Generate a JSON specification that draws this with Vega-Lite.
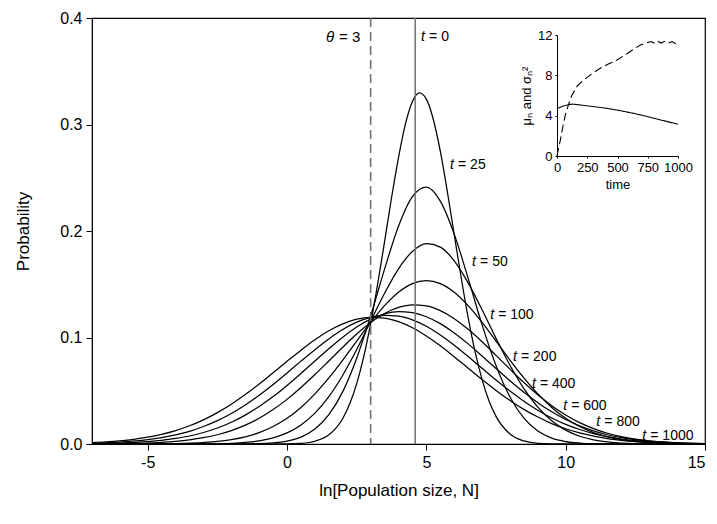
{
  "$schema": "https://vega.github.io/schema/vega-lite/v6.json",
  "width": 613,
  "height": 426,
  "autosize": {"type": "none"},
  "padding": {"left": 92, "top": 18, "right": 12, "bottom": 80},
  "background": "white",
  "config": {
    "font": "Liberation Sans",
    "view": {"stroke": "black", "strokeWidth": 1.2},
    "axis": {
      "grid": false,
      "domainColor": "black",
      "tickColor": "black",
      "labelColor": "black",
      "titleColor": "black",
      "titleFontWeight": "normal",
      "labelFont": "Liberation Sans",
      "titleFont": "Liberation Sans"
    }
  },
  "datasets": {
    "curves": [
      {"t": 25, "x": -7, "p": 0}, {"t": 25, "x": -1, "p": 0}, {"t": 25, "x": 0, "p": 0.00014}, {"t": 25, "x": 0.5, "p": 0.00065},
      {"t": 25, "x": 1, "p": 0.0026}, {"t": 25, "x": 1.5, "p": 0.0086}, {"t": 25, "x": 2, "p": 0.024}, {"t": 25, "x": 2.25, "p": 0.0377},
      {"t": 25, "x": 2.5, "p": 0.0567}, {"t": 25, "x": 2.75, "p": 0.0818}, {"t": 25, "x": 3, "p": 0.1131}, {"t": 25, "x": 3.25, "p": 0.1498},
      {"t": 25, "x": 3.5, "p": 0.19}, {"t": 25, "x": 3.75, "p": 0.2312}, {"t": 25, "x": 4, "p": 0.269}, {"t": 25, "x": 4.25, "p": 0.3006},
      {"t": 25, "x": 4.5, "p": 0.3216}, {"t": 25, "x": 4.75, "p": 0.3297}, {"t": 25, "x": 5, "p": 0.3238}, {"t": 25, "x": 5.25, "p": 0.3047},
      {"t": 25, "x": 5.5, "p": 0.2749}, {"t": 25, "x": 5.75, "p": 0.2375}, {"t": 25, "x": 6, "p": 0.1966}, {"t": 25, "x": 6.25, "p": 0.1561},
      {"t": 25, "x": 6.5, "p": 0.1186}, {"t": 25, "x": 6.75, "p": 0.0864}, {"t": 25, "x": 7, "p": 0.0604}, {"t": 25, "x": 7.25, "p": 0.0403},
      {"t": 25, "x": 7.5, "p": 0.0259}, {"t": 25, "x": 8, "p": 0.0094}, {"t": 25, "x": 8.5, "p": 0.0029}, {"t": 25, "x": 9, "p": 0.0007},
      {"t": 25, "x": 10, "p": 0.0001}, {"t": 25, "x": 15, "p": 0},

      {"t": 50, "x": -7, "p": 0}, {"t": 50, "x": -2, "p": 0.00004}, {"t": 50, "x": -1, "p": 0.0004}, {"t": 50, "x": -0.5, "p": 0.0011},
      {"t": 50, "x": 0, "p": 0.0028}, {"t": 50, "x": 0.5, "p": 0.0065}, {"t": 50, "x": 1, "p": 0.014}, {"t": 50, "x": 1.5, "p": 0.0275},
      {"t": 50, "x": 2, "p": 0.0492}, {"t": 50, "x": 2.5, "p": 0.0806}, {"t": 50, "x": 3, "p": 0.1204}, {"t": 50, "x": 3.5, "p": 0.1642},
      {"t": 50, "x": 4, "p": 0.2045}, {"t": 50, "x": 4.5, "p": 0.2323}, {"t": 50, "x": 5, "p": 0.2411}, {"t": 50, "x": 5.5, "p": 0.2281},
      {"t": 50, "x": 6, "p": 0.1971}, {"t": 50, "x": 6.5, "p": 0.1555}, {"t": 50, "x": 7, "p": 0.1119}, {"t": 50, "x": 7.5, "p": 0.0736},
      {"t": 50, "x": 8, "p": 0.0441}, {"t": 50, "x": 8.5, "p": 0.0242}, {"t": 50, "x": 9, "p": 0.0121}, {"t": 50, "x": 9.5, "p": 0.0055},
      {"t": 50, "x": 10, "p": 0.0023}, {"t": 50, "x": 10.5, "p": 0.0009}, {"t": 50, "x": 11, "p": 0.0003}, {"t": 50, "x": 12, "p": 0.00003},
      {"t": 50, "x": 15, "p": 0},

      {"t": 100, "x": -7, "p": 0}, {"t": 100, "x": -3, "p": 0.0001}, {"t": 100, "x": -2, "p": 0.0007}, {"t": 100, "x": -1.5, "p": 0.0015},
      {"t": 100, "x": -1, "p": 0.003}, {"t": 100, "x": -0.5, "p": 0.0058}, {"t": 100, "x": 0, "p": 0.0104}, {"t": 100, "x": 0.5, "p": 0.0179},
      {"t": 100, "x": 1, "p": 0.029}, {"t": 100, "x": 1.5, "p": 0.0445}, {"t": 100, "x": 2, "p": 0.0646}, {"t": 100, "x": 2.5, "p": 0.0887},
      {"t": 100, "x": 3, "p": 0.1152}, {"t": 100, "x": 3.5, "p": 0.1416}, {"t": 100, "x": 4, "p": 0.1645}, {"t": 100, "x": 4.5, "p": 0.1808},
      {"t": 100, "x": 5, "p": 0.1881}, {"t": 100, "x": 5.5, "p": 0.1849}, {"t": 100, "x": 6, "p": 0.172}, {"t": 100, "x": 6.5, "p": 0.1513},
      {"t": 100, "x": 7, "p": 0.126}, {"t": 100, "x": 7.5, "p": 0.0992}, {"t": 100, "x": 8, "p": 0.0739}, {"t": 100, "x": 8.5, "p": 0.052},
      {"t": 100, "x": 9, "p": 0.0347}, {"t": 100, "x": 9.5, "p": 0.0219}, {"t": 100, "x": 10, "p": 0.013}, {"t": 100, "x": 10.5, "p": 0.0073},
      {"t": 100, "x": 11, "p": 0.0039}, {"t": 100, "x": 11.5, "p": 0.002}, {"t": 100, "x": 12, "p": 0.0009}, {"t": 100, "x": 13, "p": 0.0002},
      {"t": 100, "x": 15, "p": 0},

      {"t": 200, "x": -7, "p": 0}, {"t": 200, "x": -5, "p": 0.0001}, {"t": 200, "x": -4, "p": 0.0004}, {"t": 200, "x": -3, "p": 0.0014},
      {"t": 200, "x": -2.5, "p": 0.0024}, {"t": 200, "x": -2, "p": 0.0041}, {"t": 200, "x": -1.5, "p": 0.0067}, {"t": 200, "x": -1, "p": 0.0107},
      {"t": 200, "x": -0.5, "p": 0.0164}, {"t": 200, "x": 0, "p": 0.0241}, {"t": 200, "x": 0.5, "p": 0.0343}, {"t": 200, "x": 1, "p": 0.047},
      {"t": 200, "x": 1.5, "p": 0.062}, {"t": 200, "x": 2, "p": 0.0788}, {"t": 200, "x": 2.5, "p": 0.0966}, {"t": 200, "x": 3, "p": 0.1141},
      {"t": 200, "x": 3.5, "p": 0.1299}, {"t": 200, "x": 4, "p": 0.1425}, {"t": 200, "x": 4.5, "p": 0.1506}, {"t": 200, "x": 5, "p": 0.1534},
      {"t": 200, "x": 5.5, "p": 0.1506}, {"t": 200, "x": 6, "p": 0.1425}, {"t": 200, "x": 6.5, "p": 0.1299}, {"t": 200, "x": 7, "p": 0.1141},
      {"t": 200, "x": 7.5, "p": 0.0966}, {"t": 200, "x": 8, "p": 0.0788}, {"t": 200, "x": 8.5, "p": 0.062}, {"t": 200, "x": 9, "p": 0.047},
      {"t": 200, "x": 9.5, "p": 0.0343}, {"t": 200, "x": 10, "p": 0.0241}, {"t": 200, "x": 10.5, "p": 0.0164}, {"t": 200, "x": 11, "p": 0.0107},
      {"t": 200, "x": 11.5, "p": 0.0067}, {"t": 200, "x": 12, "p": 0.0041}, {"t": 200, "x": 12.5, "p": 0.0024}, {"t": 200, "x": 13, "p": 0.0014},
      {"t": 200, "x": 14, "p": 0.0004}, {"t": 200, "x": 15, "p": 0.0001},

      {"t": 400, "x": -7, "p": 0.0001}, {"t": 400, "x": -6, "p": 0.0003}, {"t": 400, "x": -5, "p": 0.0009}, {"t": 400, "x": -4.5, "p": 0.0015},
      {"t": 400, "x": -4, "p": 0.0025}, {"t": 400, "x": -3.5, "p": 0.0039}, {"t": 400, "x": -3, "p": 0.0059}, {"t": 400, "x": -2.5, "p": 0.0087},
      {"t": 400, "x": -2, "p": 0.0126}, {"t": 400, "x": -1.5, "p": 0.0177}, {"t": 400, "x": -1, "p": 0.0242}, {"t": 400, "x": -0.5, "p": 0.0323},
      {"t": 400, "x": 0, "p": 0.0419}, {"t": 400, "x": 0.5, "p": 0.053}, {"t": 400, "x": 1, "p": 0.0652}, {"t": 400, "x": 1.5, "p": 0.078},
      {"t": 400, "x": 2, "p": 0.0909}, {"t": 400, "x": 2.5, "p": 0.1032}, {"t": 400, "x": 3, "p": 0.114}, {"t": 400, "x": 3.5, "p": 0.1226},
      {"t": 400, "x": 4, "p": 0.1283}, {"t": 400, "x": 4.5, "p": 0.1307}, {"t": 400, "x": 5, "p": 0.1297}, {"t": 400, "x": 5.5, "p": 0.1252},
      {"t": 400, "x": 6, "p": 0.1177}, {"t": 400, "x": 6.5, "p": 0.1077}, {"t": 400, "x": 7, "p": 0.096}, {"t": 400, "x": 7.5, "p": 0.0832},
      {"t": 400, "x": 8, "p": 0.0703}, {"t": 400, "x": 8.5, "p": 0.0577}, {"t": 400, "x": 9, "p": 0.0462}, {"t": 400, "x": 9.5, "p": 0.036},
      {"t": 400, "x": 10, "p": 0.0273}, {"t": 400, "x": 10.5, "p": 0.0201}, {"t": 400, "x": 11, "p": 0.0145}, {"t": 400, "x": 11.5, "p": 0.0101},
      {"t": 400, "x": 12, "p": 0.0069}, {"t": 400, "x": 12.5, "p": 0.0046}, {"t": 400, "x": 13, "p": 0.0029}, {"t": 400, "x": 13.5, "p": 0.0019},
      {"t": 400, "x": 14, "p": 0.0011}, {"t": 400, "x": 15, "p": 0.0004},

      {"t": 600, "x": -7, "p": 0.0003}, {"t": 600, "x": -6, "p": 0.0009}, {"t": 600, "x": -5, "p": 0.0022}, {"t": 600, "x": -4.5, "p": 0.0034},
      {"t": 600, "x": -4, "p": 0.0052}, {"t": 600, "x": -3.5, "p": 0.0075}, {"t": 600, "x": -3, "p": 0.0108}, {"t": 600, "x": -2.5, "p": 0.015},
      {"t": 600, "x": -2, "p": 0.0204}, {"t": 600, "x": -1.5, "p": 0.0271}, {"t": 600, "x": -1, "p": 0.0352}, {"t": 600, "x": -0.5, "p": 0.0445},
      {"t": 600, "x": 0, "p": 0.055}, {"t": 600, "x": 0.5, "p": 0.0663}, {"t": 600, "x": 1, "p": 0.078}, {"t": 600, "x": 1.5, "p": 0.0895},
      {"t": 600, "x": 2, "p": 0.1003}, {"t": 600, "x": 2.5, "p": 0.1098}, {"t": 600, "x": 3, "p": 0.1172}, {"t": 600, "x": 3.5, "p": 0.1221},
      {"t": 600, "x": 4, "p": 0.1243}, {"t": 600, "x": 4.5, "p": 0.1233}, {"t": 600, "x": 5, "p": 0.1195}, {"t": 600, "x": 5.5, "p": 0.113},
      {"t": 600, "x": 6, "p": 0.1043}, {"t": 600, "x": 6.5, "p": 0.094}, {"t": 600, "x": 7, "p": 0.0826}, {"t": 600, "x": 7.5, "p": 0.0709},
      {"t": 600, "x": 8, "p": 0.0594}, {"t": 600, "x": 8.5, "p": 0.0486}, {"t": 600, "x": 9, "p": 0.0388}, {"t": 600, "x": 9.5, "p": 0.0302},
      {"t": 600, "x": 10, "p": 0.023}, {"t": 600, "x": 10.5, "p": 0.017}, {"t": 600, "x": 11, "p": 0.0123}, {"t": 600, "x": 11.5, "p": 0.0087},
      {"t": 600, "x": 12, "p": 0.006}, {"t": 600, "x": 12.5, "p": 0.004}, {"t": 600, "x": 13, "p": 0.0027}, {"t": 600, "x": 13.5, "p": 0.0017},
      {"t": 600, "x": 14, "p": 0.0011}, {"t": 600, "x": 15, "p": 0.0004},

      {"t": 800, "x": -7, "p": 0.0007}, {"t": 800, "x": -6, "p": 0.0018}, {"t": 800, "x": -5, "p": 0.0041}, {"t": 800, "x": -4.5, "p": 0.006},
      {"t": 800, "x": -4, "p": 0.0085}, {"t": 800, "x": -3.5, "p": 0.0119}, {"t": 800, "x": -3, "p": 0.0164}, {"t": 800, "x": -2.5, "p": 0.0219},
      {"t": 800, "x": -2, "p": 0.0286}, {"t": 800, "x": -1.5, "p": 0.0366}, {"t": 800, "x": -1, "p": 0.0458}, {"t": 800, "x": -0.5, "p": 0.0559},
      {"t": 800, "x": 0, "p": 0.0667}, {"t": 800, "x": 0.5, "p": 0.0778}, {"t": 800, "x": 1, "p": 0.0886}, {"t": 800, "x": 1.5, "p": 0.0987},
      {"t": 800, "x": 2, "p": 0.1075}, {"t": 800, "x": 2.5, "p": 0.1144}, {"t": 800, "x": 3, "p": 0.1189}, {"t": 800, "x": 3.5, "p": 0.1208},
      {"t": 800, "x": 4, "p": 0.12}, {"t": 800, "x": 4.5, "p": 0.1165}, {"t": 800, "x": 5, "p": 0.1105}, {"t": 800, "x": 5.5, "p": 0.1024},
      {"t": 800, "x": 6, "p": 0.0928}, {"t": 800, "x": 6.5, "p": 0.0822}, {"t": 800, "x": 7, "p": 0.0711}, {"t": 800, "x": 7.5, "p": 0.0601},
      {"t": 800, "x": 8, "p": 0.0497}, {"t": 800, "x": 8.5, "p": 0.0402}, {"t": 800, "x": 9, "p": 0.0317}, {"t": 800, "x": 9.5, "p": 0.0244},
      {"t": 800, "x": 10, "p": 0.0184}, {"t": 800, "x": 10.5, "p": 0.0136}, {"t": 800, "x": 11, "p": 0.0098}, {"t": 800, "x": 11.5, "p": 0.0069},
      {"t": 800, "x": 12, "p": 0.0047}, {"t": 800, "x": 12.5, "p": 0.0032}, {"t": 800, "x": 13, "p": 0.0021}, {"t": 800, "x": 13.5, "p": 0.0013},
      {"t": 800, "x": 14, "p": 0.0008}, {"t": 800, "x": 15, "p": 0.0003},

      {"t": 1000, "x": -7, "p": 0.0013}, {"t": 1000, "x": -6.5, "p": 0.002}, {"t": 1000, "x": -6, "p": 0.003}, {"t": 1000, "x": -5.5, "p": 0.0044},
      {"t": 1000, "x": -5, "p": 0.0064}, {"t": 1000, "x": -4.5, "p": 0.0091}, {"t": 1000, "x": -4, "p": 0.0126}, {"t": 1000, "x": -3.5, "p": 0.0171},
      {"t": 1000, "x": -3, "p": 0.0227}, {"t": 1000, "x": -2.5, "p": 0.0295}, {"t": 1000, "x": -2, "p": 0.0374}, {"t": 1000, "x": -1.5, "p": 0.0464},
      {"t": 1000, "x": -1, "p": 0.0563}, {"t": 1000, "x": -0.5, "p": 0.0669}, {"t": 1000, "x": 0, "p": 0.0776}, {"t": 1000, "x": 0.5, "p": 0.0881},
      {"t": 1000, "x": 1, "p": 0.0979}, {"t": 1000, "x": 1.5, "p": 0.1063}, {"t": 1000, "x": 2, "p": 0.1128}, {"t": 1000, "x": 2.5, "p": 0.1172},
      {"t": 1000, "x": 3, "p": 0.119}, {"t": 1000, "x": 3.5, "p": 0.1183}, {"t": 1000, "x": 4, "p": 0.1149}, {"t": 1000, "x": 4.5, "p": 0.1092},
      {"t": 1000, "x": 5, "p": 0.1014}, {"t": 1000, "x": 5.5, "p": 0.0922}, {"t": 1000, "x": 6, "p": 0.0819}, {"t": 1000, "x": 6.5, "p": 0.0712},
      {"t": 1000, "x": 7, "p": 0.0605}, {"t": 1000, "x": 7.5, "p": 0.0503}, {"t": 1000, "x": 8, "p": 0.0409}, {"t": 1000, "x": 8.5, "p": 0.0325},
      {"t": 1000, "x": 9, "p": 0.0253}, {"t": 1000, "x": 9.5, "p": 0.0192}, {"t": 1000, "x": 10, "p": 0.0143}, {"t": 1000, "x": 10.5, "p": 0.0104},
      {"t": 1000, "x": 11, "p": 0.0074}, {"t": 1000, "x": 11.5, "p": 0.0051}, {"t": 1000, "x": 12, "p": 0.0035}, {"t": 1000, "x": 12.5, "p": 0.0023},
      {"t": 1000, "x": 13, "p": 0.0015}, {"t": 1000, "x": 13.5, "p": 0.001}, {"t": 1000, "x": 14, "p": 0.0006}, {"t": 1000, "x": 15, "p": 0.0002}
    ],
    "labels": [
      {"sym": "t", "rest": "= 0", "x": 4.81, "y": 0.382},
      {"sym": "t", "rest": "= 25", "x": 5.85, "y": 0.262},
      {"sym": "t", "rest": "= 50", "x": 6.64, "y": 0.171},
      {"sym": "t", "rest": "= 100", "x": 7.29, "y": 0.121},
      {"sym": "t", "rest": "= 200", "x": 8.11, "y": 0.0817},
      {"sym": "t", "rest": "= 400", "x": 8.79, "y": 0.0563},
      {"sym": "t", "rest": "= 600", "x": 9.91, "y": 0.0355},
      {"sym": "t", "rest": "= 800", "x": 11.1, "y": 0.0205},
      {"sym": "t", "rest": "= 1000", "x": 12.75, "y": 0.0075}
    ],
    "inset": [
      {"s": "mu", "time": 0, "v": 4.7}, {"s": "mu", "time": 50, "v": 4.95}, {"s": "mu", "time": 100, "v": 5.1},
      {"s": "mu", "time": 125, "v": 5.15}, {"s": "mu", "time": 200, "v": 5.05}, {"s": "mu", "time": 300, "v": 4.9},
      {"s": "mu", "time": 400, "v": 4.75}, {"s": "mu", "time": 500, "v": 4.55}, {"s": "mu", "time": 634, "v": 4.23},
      {"s": "mu", "time": 700, "v": 4.05}, {"s": "mu", "time": 800, "v": 3.75}, {"s": "mu", "time": 900, "v": 3.45},
      {"s": "mu", "time": 1000, "v": 3.15},
      {"s": "var", "time": 0, "v": 0}, {"s": "var", "time": 10, "v": 0.6}, {"s": "var", "time": 28, "v": 1.6},
      {"s": "var", "time": 50, "v": 3.0}, {"s": "var", "time": 69, "v": 4.07}, {"s": "var", "time": 100, "v": 5.3},
      {"s": "var", "time": 124, "v": 6.05}, {"s": "var", "time": 165, "v": 6.9}, {"s": "var", "time": 220, "v": 7.54},
      {"s": "var", "time": 300, "v": 8.25}, {"s": "var", "time": 358, "v": 8.7}, {"s": "var", "time": 420, "v": 9.1},
      {"s": "var", "time": 496, "v": 9.52}, {"s": "var", "time": 560, "v": 10.0}, {"s": "var", "time": 634, "v": 10.6},
      {"s": "var", "time": 690, "v": 11.0}, {"s": "var", "time": 744, "v": 11.24}, {"s": "var", "time": 780, "v": 11.35},
      {"s": "var", "time": 800, "v": 11.2}, {"s": "var", "time": 830, "v": 11.4}, {"s": "var", "time": 860, "v": 11.2},
      {"s": "var", "time": 890, "v": 11.38}, {"s": "var", "time": 920, "v": 11.2}, {"s": "var", "time": 950, "v": 11.35},
      {"s": "var", "time": 980, "v": 11.15}, {"s": "var", "time": 1000, "v": 11.25}
    ]
  },
  "layer": [
    {
      "layer": [
        {
          "data": {"name": "curves"},
          "mark": {"type": "line", "interpolate": "monotone", "color": "black", "strokeWidth": 1.25},
          "encoding": {
            "x": {
              "field": "x", "type": "quantitative",
              "scale": {"domain": [-7, 15], "nice": false, "zero": false},
              "axis": {
                "values": [-5, 0, 5, 10, 15], "labelExpr": "'' + datum.value", "title": "ln[Population size, N]",
                "labelFontSize": 16, "titleFontSize": 17, "tickSize": 6, "labelPadding": 4, "titlePadding": 12
              }
            },
            "y": {
              "field": "p", "type": "quantitative",
              "scale": {"domain": [0, 0.4], "nice": false},
              "axis": {
                "values": [0, 0.1, 0.2, 0.3, 0.4], "format": ".1f", "title": "Probability",
                "labelFontSize": 16, "titleFontSize": 17, "tickSize": 6, "labelPadding": 4, "titlePadding": 27
              }
            },
            "detail": {"field": "t", "type": "nominal"}
          }
        },
        {
          "data": {"values": [{"x": 3}]},
          "mark": {"type": "rule", "color": "#707070", "strokeWidth": 1.6, "strokeDash": [9, 5]},
          "encoding": {"x": {"field": "x", "type": "quantitative"}}
        },
        {
          "data": {"values": [{"x": 4.6}]},
          "mark": {"type": "rule", "color": "#707070", "strokeWidth": 1.5},
          "encoding": {"x": {"field": "x", "type": "quantitative"}}
        },
        {
          "data": {"values": [{"x": 1.4, "y": 0.382}]},
          "mark": {"type": "text", "text": "θ", "align": "left", "baseline": "middle", "fontSize": 15, "fontStyle": "italic", "font": "Liberation Sans"},
          "encoding": {"x": {"field": "x", "type": "quantitative"}, "y": {"field": "y", "type": "quantitative"}}
        },
        {
          "data": {"values": [{"x": 1.4, "y": 0.382}]},
          "mark": {"type": "text", "text": "= 3", "align": "left", "baseline": "middle", "dx": 13, "fontSize": 15, "font": "Liberation Sans"},
          "encoding": {"x": {"field": "x", "type": "quantitative"}, "y": {"field": "y", "type": "quantitative"}}
        },
        {
          "data": {"name": "labels"},
          "mark": {"type": "text", "align": "left", "baseline": "middle", "fontSize": 14, "fontStyle": "italic", "font": "Liberation Sans"},
          "encoding": {
            "x": {"field": "x", "type": "quantitative"},
            "y": {"field": "y", "type": "quantitative"},
            "text": {"field": "sym"}
          }
        },
        {
          "data": {"name": "labels"},
          "mark": {"type": "text", "align": "left", "baseline": "middle", "dx": 8, "fontSize": 14, "font": "Liberation Sans"},
          "encoding": {
            "x": {"field": "x", "type": "quantitative"},
            "y": {"field": "y", "type": "quantitative"},
            "text": {"field": "rest"}
          }
        }
      ]
    },
    {
      "data": {"name": "inset"},
      "mark": {"type": "line", "color": "black", "strokeWidth": 1.1},
      "encoding": {
        "x": {
          "field": "time", "type": "quantitative",
          "scale": {"domain": [0, 1000], "range": [465, 586], "nice": false},
          "axis": {
            "orient": "bottom", "offset": -288, "values": [0, 250, 500, 750, 1000], "format": "d", "title": "time",
            "labelFontSize": 13, "titleFontSize": 13, "tickSize": 2, "labelPadding": 3, "titlePadding": 4,
            "labelOverlap": false, "labelFlush": false
          }
        },
        "y": {
          "field": "v", "type": "quantitative",
          "scale": {"domain": [0, 12], "range": [138, 17], "nice": false},
          "axis": {
            "orient": "left", "offset": -465, "values": [0, 4, 8, 12], "title": "μₙ and σₙ²",
            "labelFontSize": 13, "titleFontSize": 13, "tickSize": 2, "labelPadding": 3, "titlePadding": 4
          }
        },
        "strokeDash": {
          "field": "s", "type": "nominal",
          "scale": {"domain": ["mu", "var"], "range": [[1, 0], [8, 4]]},
          "legend": null
        }
      }
    }
  ],
  "resolve": {
    "scale": {"x": "independent", "y": "independent", "strokeDash": "independent"},
    "axis": {"x": "independent", "y": "independent"}
  }
}
